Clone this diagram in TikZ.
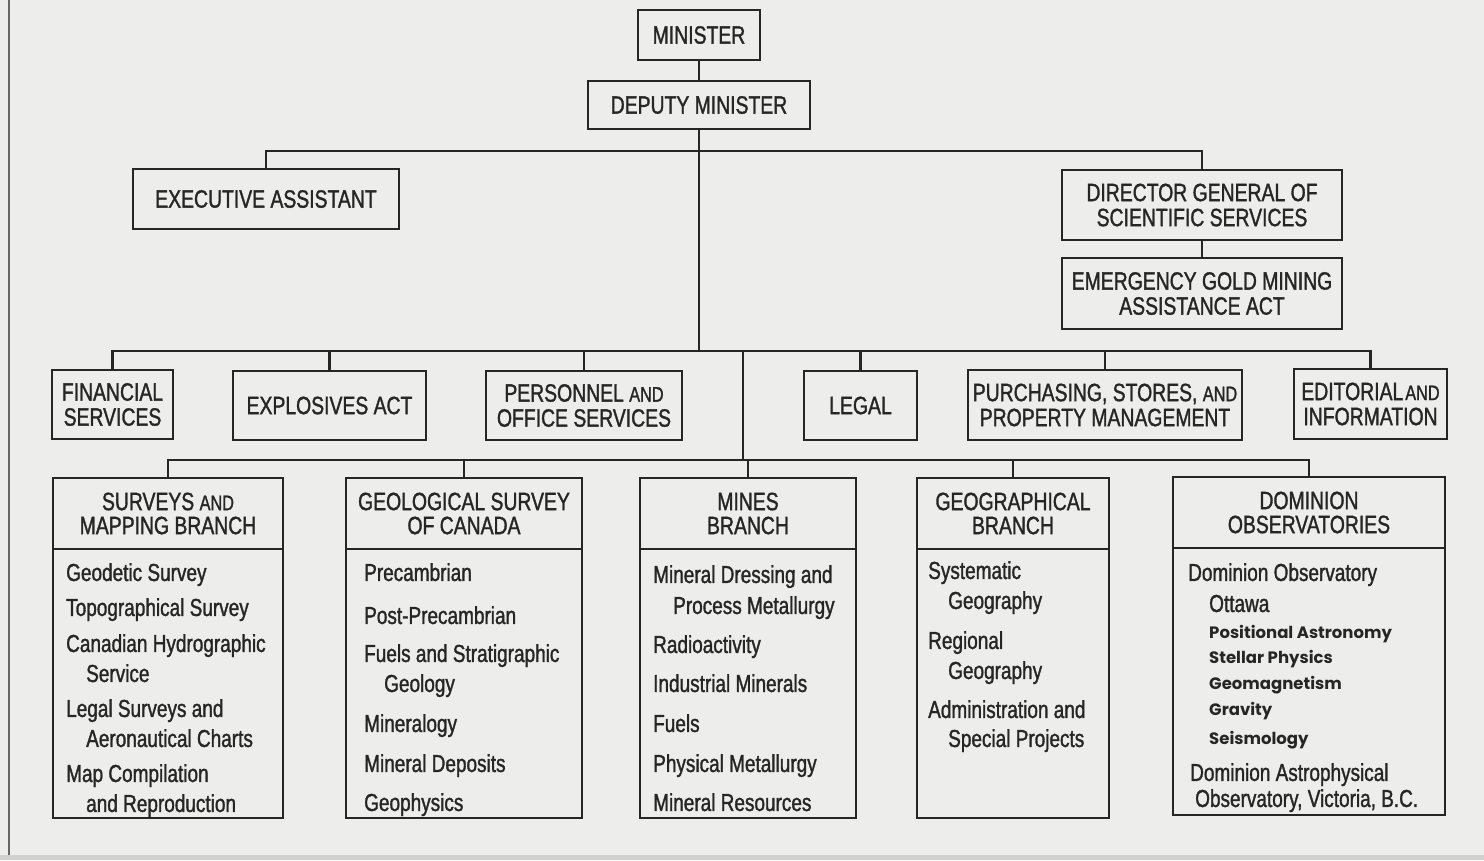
\documentclass[tikz,border=0pt]{standalone}
\usepackage{fontspec}
\setmainfont{Liberation Sans}[FakeStretch=0.775, FakeBold=1.3]
\newfontfamily\geofont{Poppins}
\usetikzlibrary{positioning}

\definecolor{paper}{HTML}{EDEDEB}
\definecolor{ink}{HTML}{262626}

\newcommand{\smalland}{{\fontsize{21}{21}\selectfont AND}}
\newcommand{\obsunit}[1]{{\geofont\bfseries\fontsize{16.5}{20}\selectfont #1}}

\tikzset{
  office/.style={draw=ink, line width=2.6pt, text=ink, inner sep=0pt, outer sep=0pt,
    align=center, font=\fontsize{25}{25}\selectfont},
  branch/.style={office, minimum height=71pt, font=\fontsize{25}{24}\selectfont},
  branchbody/.style={draw=ink, line width=2.6pt, inner sep=0pt, outer sep=0pt,
    minimum height=269pt},
  items/.style={text=ink, inner sep=0pt, align=left, anchor=north west,
    font=\fontsize{24.5}{30}\selectfont},
  link/.style={draw=ink, line width=2.6pt},
}

\begin{document}
\begin{tikzpicture}[x=1pt,y=-1pt]
\useasboundingbox (0,0) rectangle (1484,860);
\fill[paper] (0,0) rectangle (1484,860);
% edge of the page
\fill[black!18] (0,855) rectangle (1484,860);
\draw[black!60, line width=1.5pt] (9,0) -- (9,855);

% minister and staff
\node[office, minimum width=122pt, minimum height=50pt] (min) at (699,35) {MINISTER};
\node[office, minimum width=222pt, minimum height=48pt, below=21pt of min] (dep) {DEPUTY MINISTER};
\node[office, minimum width=266pt, minimum height=60pt] (exec) at (266,199) {EXECUTIVE ASSISTANT};
\node[office, minimum width=280pt, minimum height=70pt] (dgss) at (1202,205) {DIRECTOR GENERAL OF\\SCIENTIFIC SERVICES};
\node[office, minimum width=280pt, minimum height=71pt, below=18pt of dgss] (gold) {EMERGENCY GOLD MINING\\ASSISTANCE ACT};

% services
\node[office, minimum width=121pt, minimum height=69pt] (fin) at (112.5,404.5) {FINANCIAL\\SERVICES};
\node[office, minimum width=193pt, minimum height=69pt] (expl) at (329.5,405.5) {EXPLOSIVES ACT};
\node[office, minimum width=196pt, minimum height=69pt] (pers) at (584,405.5) {PERSONNEL \smalland\\OFFICE SERVICES};
\node[office, minimum width=113pt, minimum height=69pt] (legal) at (860.5,405.5) {LEGAL};
\node[office, minimum width=274pt, minimum height=70pt] (purch) at (1105,405) {PURCHASING, STORES, \smalland\\PROPERTY MANAGEMENT};
\node[office, minimum width=153pt, minimum height=70pt] (edit) at (1370.5,404) {EDITORIAL\kern2pt\smalland\\INFORMATION};

% branches
\node[branch, minimum width=230pt] (surv) at (168,513.5) {SURVEYS \smalland\\MAPPING BRANCH};
\node[branch, minimum width=236pt] (geol) at (464,513.5) {GEOLOGICAL SURVEY\\OF CANADA};
\node[branch, minimum width=216pt] (mines) at (748,513.5) {MINES\\BRANCH};
\node[branch, minimum width=192pt] (geog) at (1013,513.5) {GEOGRAPHICAL\\BRANCH};
\node[branch, minimum width=272pt] (dom) at (1309,512.5) {DOMINION\\OBSERVATORIES};

\node[branchbody, minimum width=230pt, below=0pt of surv] (surv-list) {};
\node[branchbody, minimum width=236pt, below=0pt of geol] (geol-list) {};
\node[branchbody, minimum width=216pt, below=0pt of mines] (mines-list) {};
\node[branchbody, minimum width=192pt, below=0pt of geog] (geog-list) {};
\node[branchbody, minimum width=272pt, minimum height=267pt, below=0pt of dom] (dom-list) {};

\node[items, below right=14pt and 13pt of surv-list.north west] (surv-text)
  {Geodetic Survey\\[5pt]
   Topographical Survey\\[6pt]
   Canadian Hydrographic\\
   \hspace*{20pt}Service\\[5pt]
   Legal Surveys and\\
   \hspace*{20pt}Aeronautical Charts\\[5pt]
   Map Compilation\\
   \hspace*{20pt}and Reproduction};
\node[items, below right=14pt and 18pt of geol-list.north west] (geol-text)
  {Precambrian\\[13pt]
   Post-Precambrian\\[8pt]
   Fuels and Stratigraphic\\
   \hspace*{20pt}Geology\\[10pt]
   Mineralogy\\[10pt]
   Mineral Deposits\\[9pt]
   Geophysics};
\node[items, below right=16pt and 13pt of mines-list.north west] (mines-text)
  {Mineral Dressing and\\[1pt]
   \hspace*{20pt}Process Metallurgy\\[9pt]
   Radioactivity\\[9pt]
   Industrial Minerals\\[10pt]
   Fuels\\[10pt]
   Physical Metallurgy\\[9pt]
   Mineral Resources};
\node[items, below right=12pt and 11pt of geog-list.north west] (geog-text)
  {Systematic\\
   \hspace*{20pt}Geography\\[10pt]
   Regional\\
   \hspace*{20pt}Geography\\[9pt]
   Administration and\\[-1pt]
   \hspace*{20pt}Special Projects};
\node[items, below right=15pt and 15pt of dom-list.north west] (dom-text)
  {Dominion Observatory\\[1pt]
   \hspace*{21pt}Ottawa\\[-3pt]
   \hspace*{21pt}\obsunit{Positional Astronomy}\\[-5pt]
   \hspace*{21pt}\obsunit{Stellar Physics}\\[-4pt]
   \hspace*{21pt}\obsunit{Geomagnetism}\\[-4pt]
   \hspace*{21pt}\obsunit{Gravity}\\[-1pt]
   \hspace*{21pt}\obsunit{Seismology}\\[6pt]
   \hspace*{2pt}Dominion Astrophysical\\[-4pt]
   \hspace*{7pt}Observatory, Victoria, B.C.};

% connectors
\coordinate (bus1) at (699,151);
\coordinate (bus2) at (699,351);
\coordinate (bus3top) at (743,351);
\coordinate (bus3) at (743,460);
\draw[link] (min) -- (dep);
\draw[link] (dep.south) -- (bus1) -- (bus2);
\draw[link] (exec.north) |- (bus1) -| (dgss.north);
\draw[link] (dgss) -- (gold);
\draw[link] (fin.north) |- (bus2) -| (edit.north);
\foreach \n in {expl,pers,legal,purch}
  \draw[link] (\n.north) -- (\n.north |- bus2);
\draw[link] (bus3top) -- (bus3);
\draw[link] (surv.north) |- (bus3) -| (dom.north);
\foreach \n in {geol,mines,geog}
  \draw[link] (\n.north) -- (\n.north |- bus3);
\end{tikzpicture}
\end{document}
